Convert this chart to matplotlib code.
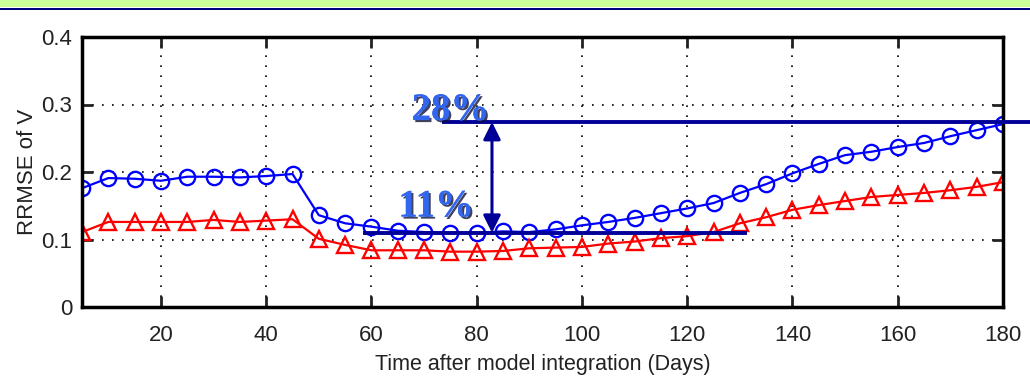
import numpy as np
import matplotlib.pyplot as plt
import matplotlib.patheffects as pe
from matplotlib.patches import Rectangle

plt.rcParams['font.family'] = ['Liberation Sans', 'DejaVu Sans']

# data
days = np.arange(5, 181, 5)
rrmse_blue = [0.176, 0.191, 0.190, 0.187, 0.193, 0.193, 0.192, 0.194, 0.197,
              0.136, 0.124, 0.119, 0.113, 0.111, 0.110, 0.110, 0.112, 0.111,
              0.115, 0.121, 0.126, 0.132, 0.139, 0.146, 0.154, 0.169, 0.182,
              0.198, 0.212, 0.225, 0.230, 0.237, 0.243, 0.253, 0.262, 0.271]
rrmse_red = [0.111, 0.126, 0.126, 0.126, 0.126, 0.129, 0.126, 0.128, 0.130,
             0.101, 0.092, 0.084, 0.084, 0.084, 0.082, 0.082, 0.083, 0.087,
             0.088, 0.089, 0.094, 0.097, 0.102, 0.105, 0.111, 0.124, 0.133,
             0.144, 0.151, 0.157, 0.163, 0.166, 0.169, 0.173, 0.178, 0.185]
xticks = [20, 40, 60, 80, 100, 120, 140, 160, 180]
yticks = [0, 0.1, 0.2, 0.3, 0.4]
ytick_labels = ['0', '0.1', '0.2', '0.3', '0.4']

# annotation levels
hi_level = 0.274
lo_level = 0.110
arrow_x = 82.9

fig = plt.figure(figsize=(10.3, 3.8), dpi=100)
# slide header band
fig.patches.append(Rectangle((0, 1 - 7/380), 1, 7/380, transform=fig.transFigure,
                             facecolor='#CCFF99', edgecolor='none', zorder=0))
fig.patches.append(Rectangle((0, 1 - 10/380), 1, 2.5/380, transform=fig.transFigure,
                             facecolor='#000080', edgecolor='none', zorder=0))

ax = fig.add_axes([82/1030, 73/380, 921/1030, 270/380])
ax.plot(days, rrmse_blue, '-o', color='blue', mfc='none', mew=1.7, ms=11, lw=1.6)
ax.plot(days, rrmse_red, '-^', color='red', mfc='none', mew=1.7, ms=12, lw=1.6)

ax.set_xlim(5, 180)
ax.set_ylim(0, 0.4)
ax.set_xticks(xticks)
ax.set_yticks(yticks)
ax.set_yticklabels(ytick_labels)
ax.grid(True, color='black', linestyle=(0, (1, 5)), linewidth=1.2)
ax.tick_params(direction='in', length=8, width=2, labelsize=16, top=True, right=True,
               pad=7, colors='#222222')
ax.tick_params(axis='x', pad=13)
for s in ax.spines.values():
    s.set_linewidth(2.5)
ax.set_xlabel('Time after model integration (Days)', fontsize=15.5, color='#222222', labelpad=6)
ax.set_ylabel('RRMSE of V', fontsize=16, color='#222222', labelpad=2)

navy = '#000099'
ax.plot([73.8, 187], [hi_level, hi_level], color=navy, lw=2.8, clip_on=False, zorder=5)
ax.plot([58.8, 131], [lo_level, lo_level], color=navy, lw=2.8, zorder=5)
ax.annotate('', xy=(arrow_x, lo_level), xytext=(arrow_x, hi_level),
            arrowprops=dict(arrowstyle='<|-|>', color=navy, lw=2.2,
                            mutation_scale=26, shrinkA=0, shrinkB=0), zorder=6)

shadow = [pe.withSimplePatchShadow(offset=(1.5, -1.5), shadow_rgbFace='#111133', alpha=0.8),
          pe.Normal()]
ax.text(75.0, 0.277, '28%', fontsize=28, fontweight='bold', family='Liberation Serif',
        color='#3366EE', ha='center', va='baseline', path_effects=shadow, zorder=7)
ax.text(72.3, 0.134, '11%', fontsize=28, fontweight='bold', family='Liberation Serif',
        color='#3366EE', ha='center', va='baseline', path_effects=shadow, zorder=7)

fig.savefig('out.png', dpi=100)
